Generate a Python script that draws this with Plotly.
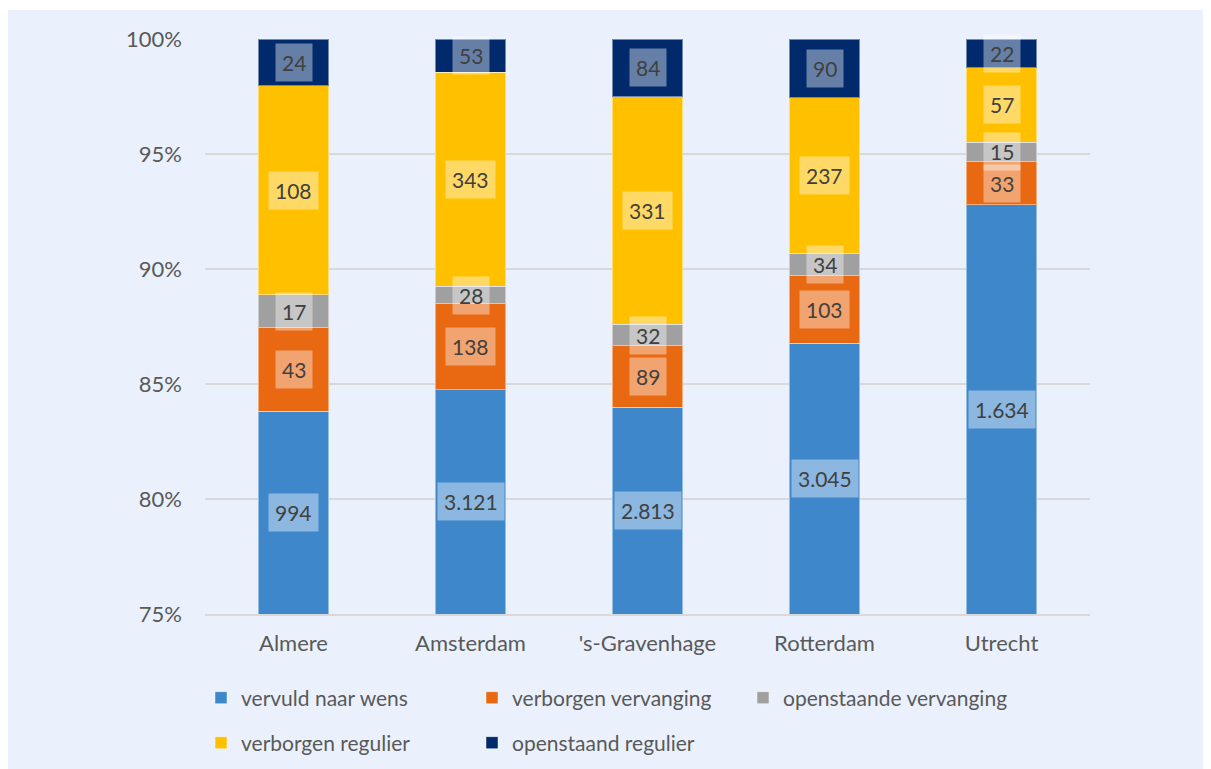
import plotly.graph_objects as go

cities = ["Almere", "Amsterdam", "'s-Gravenhage", "Rotterdam", "Utrecht"]
series_names = ["vervuld naar wens", "verborgen vervanging", "openstaande vervanging",
                "verborgen regulier", "openstaand regulier"]
vervuld_naar_wens = [994, 3121, 2813, 3045, 1634]
verborgen_vervanging = [43, 138, 89, 103, 33]
openstaande_vervanging = [17, 28, 32, 34, 15]
verborgen_regulier = [108, 343, 331, 237, 57]
openstaand_regulier = [24, 53, 84, 90, 22]
colors = ["#3E87CB", "#E96812", "#A0A0A0", "#FFC000", "#002A6C"]
y_ticks = [75, 80, 85, 90, 95, 100]
y_ticktext = ["75%", "80%", "85%", "90%", "95%", "100%"]

series = [vervuld_naar_wens, verborgen_vervanging, openstaande_vervanging,
          verborgen_regulier, openstaand_regulier]
totals = [sum(s[i] for s in series) for i in range(len(cities))]
pct = [[s[i] / totals[i] * 100 for i in range(len(cities))] for s in series]

FONT = "Lato"
W, H = 1203, 761
L, R, T, B = 197, 121, 31, 155
PW, PH = W - L - R, H - T - B
legend_ids = ["legend", "legend", "legend", "legend2", "legend2"]
fig = go.Figure()
for name, p, c, lg in zip(series_names, pct, colors, legend_ids):
    fig.add_trace(go.Bar(x=cities, y=p, name=name, marker_color=c, legend=lg,
                         marker_line=dict(color="rgba(255,255,255,0.45)", width=1)))

ymin, ymax = 75, 100
annotations = []
for i, city in enumerate(cities):
    cum = 0
    for s, p in zip(series, pct):
        lo, hi = cum, cum + p[i]
        cum = hi
        a, b = max(lo, ymin), min(hi, ymax)
        if b <= a:
            continue
        annotations.append(dict(x=city, y=(a + b) / 2, xref="x", yref="y",
                                text=f"{s[i]:,}".replace(",", "."), showarrow=False,
                                font=dict(family=FONT, size=21, color="#404040"),
                                bgcolor="rgba(255,255,255,0.4)", borderpad=6))

legend_common = dict(orientation="h", xanchor="left", yanchor="middle",
                     entrywidth=226, entrywidthmode="pixels", traceorder="normal",
                     font=dict(family=FONT, size=21, color="#595959"),
                     bgcolor="rgba(0,0,0,0)")
fig.update_layout(
    barmode="stack",
    bargap=0.6,
    width=W, height=H,
    margin=dict(l=L, r=R, t=T, b=B, autoexpand=False),
    paper_bgcolor="white",
    plot_bgcolor="rgba(0,0,0,0)",
    font=dict(family=FONT, color="#595959", size=21),
    annotations=annotations,
    shapes=[dict(type="rect", xref="paper", yref="paper",
                 x0=-L / PW, x1=(W - L) / PW,
                 y0=-B / PH, y1=(PH + T - 2) / PH,
                 fillcolor="#EAF1FD", line_width=0, layer="below")],
    legend=dict(x=-4 / PW, y=-84 / PH, **legend_common),
    legend2=dict(x=-4 / PW, y=-129 / PH, **legend_common),
    showlegend=True,
)
fig.update_yaxes(range=[ymin, ymax], tickvals=y_ticks, ticktext=y_ticktext,
                 showgrid=True, gridcolor="#D9D9D9", gridwidth=1.5,
                 zeroline=False, ticks="", ticklabelstandoff=22,
                 tickfont=dict(size=22))
fig.update_xaxes(showline=True, linecolor="#D9D9D9", linewidth=1.5, ticks="",
                 ticklabelstandoff=9, tickfont=dict(size=22))

fig.write_html("out.html")
